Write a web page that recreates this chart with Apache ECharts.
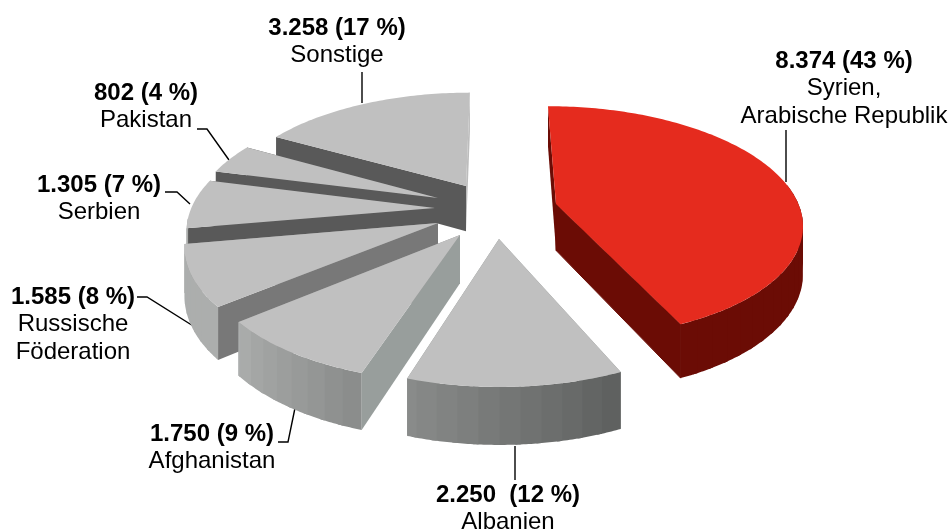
<!DOCTYPE html>
<html>
<head>
<meta charset="utf-8">
<style>html,body{margin:0;padding:0;background:#fff}#c{width:952px;height:532px}</style>
<script src="https://cdn.jsdelivr.net/npm/echarts@6/dist/echarts.min.js"></script>
</head>
<body>
<div id="c"></div>
<script>
// ---- data ----
const categories = ['Syrien,\nArabische Republik', 'Albanien', 'Afghanistan', 'Russische\nFöderation', 'Serbien', 'Pakistan', 'Sonstige'];
const values = [8374, 2250, 1750, 1585, 1305, 802, 3258];
const valueLabels = ['8.374 (43 %)', '2.250  (12 %)', '1.750 (9 %)', '1.585 (8 %)', '1.305 (7 %)', '802 (4 %)', '3.258 (17 %)'];

// ---- layout ----
const vanish = [496, -527], planeY = 230, focal = 1000;
const radiusX = 251, radiusV = 160, thickness = 48;
const explode = [[60, -26], [3, 9], [-36, 5], [-58, -7], [-61, -22], [-58, -32], [-30, -44]];
const labelAnchors = [[844, 61], [508, 495], [212, 434], [73, 297], [99, 185], [146, 93], [337, 28]];
const leaders = [
  [[786, 130], [786, 182]],
  [[515, 446], [515, 480]],
  [[278, 442], [288, 442], [295, 408]],
  [[137, 297], [147, 297], [198, 329]],
  [[165, 192], [177, 192], [190, 204]],
  [[197, 129], [207, 129], [229, 160]],
  [[362, 72], [362, 103]]
];
const topColors = ['#e52b1e', '#c0c0c0', '#c0c0c0', '#c0c0c0', '#c0c0c0', '#c0c0c0', '#c0c0c0'];
const startWall = ['#6b0c05', '#8a8f8d', '#989e9c', '#787878', '#595959', '#595959', '#595959'];
const endWall = ['#6b0c05', '#8a8f8d', '#8f8f8f', '#8f8f8f', '#595959', '#595959', '#bdbdbd'];

const total = values.reduce((a, b) => a + b, 0);
const H0 = planeY - vanish[1];

function toWorld(x, y) {
  const s = (y - vanish[1]) / H0;
  return [(x - vanish[0]) / s, focal * (1 - 1 / s)];
}
function project(X, V, down) {
  const s = 1 / (1 - V / focal);
  return [vanish[0] + X * s, vanish[1] + (H0 + (down ? thickness : 0)) * s];
}
function wallShade(i, deg) {
  if (i === 0) return '#6b0c05';
  const l = Math.round(Math.max(92, Math.min(172, 92 + (deg - 155) * 1.05)));
  return 'rgb(' + l + ',' + (l + 2) + ',' + (l + 1) + ')';
}

const starts = [];
values.reduce((acc, v, i) => { starts[i] = acc; return acc + v / total * 360; }, 0);

function renderSlice(params, api) {
  const i = api.value(0);
  const a0 = starts[i], a1 = a0 + values[i] / total * 360;
  const apexW = toWorld(vanish[0] + explode[i][0], planeY + explode[i][1]);
  const pt = (deg, down) => {
    const r = deg * Math.PI / 180;
    return project(apexW[0] + radiusX * Math.sin(r), apexW[1] - radiusV * Math.cos(r), down);
  };
  const apexTop = project(apexW[0], apexW[1], false), apexBot = project(apexW[0], apexW[1], true);
  const poly = (points, fill, seal) => ({
    type: 'polygon', shape: { points: points },
    style: seal ? { fill: fill, stroke: fill, lineWidth: 1, lineJoin: 'round' } : { fill: fill }, silent: true
  });
  const children = [];
  // radial walls; the red slice's near wall is sealed so no seam shows against its outer wall
  children.push(poly([apexTop, pt(a1, false), pt(a1, true), apexBot], endWall[i], i === 0));
  children.push(poly([apexTop, pt(a0, false), pt(a0, true), apexBot], startWall[i]));
  // outer wall, visible part only, in narrow overlapping strips
  const step = 4, arcFrom = Math.max(a0, 80), arcTo = Math.min(a1, 265);
  for (let d = arcFrom; d < arcTo; d += step) {
    const e = Math.min(d + step + 1, arcTo);
    const pts = [];
    const n = Math.max(2, Math.ceil((e - d) * 2));
    for (let k = 0; k <= n; k++) pts.push(pt(d + (e - d) * k / n, false));
    for (let k = n; k >= 0; k--) pts.push(pt(d + (e - d) * k / n, true));
    children.push(poly(pts, wallShade(i, d + step / 2)));
  }
  // top face
  const top = [apexTop];
  for (let d = a0; d < a1; d += 1) top.push(pt(d, false));
  top.push(pt(a1, false));
  children.push(poly(top, topColors[i]));
  return { type: 'group', children: children };
}

function renderLabel(params, api) {
  const i = api.value(0);
  const [x, y] = labelAnchors[i];
  const children = [{
    type: 'polyline', shape: { points: leaders[i] },
    style: { stroke: '#000', lineWidth: 1.4, fill: 'none' }, silent: true
  }, {
    type: 'text', silent: true,
    style: { text: valueLabels[i], x: x, y: y, align: 'center', verticalAlign: 'middle',
      fill: '#000', font: 'bold 24px "Liberation Sans", Arial, sans-serif' }
  }];
  categories[i].split('\n').forEach((line, k) => {
    children.push({
      type: 'text', silent: true,
      style: { text: line, x: x, y: y + 27.5 * (k + 1), align: 'center', verticalAlign: 'middle',
        fill: '#000', font: '24px "Liberation Sans", Arial, sans-serif' }
    });
  });
  return { type: 'group', children: children };
}

// far slices are painted first
const drawOrder = values.map((_, i) => [values.length - 1 - i]);

const chart = echarts.init(document.getElementById('c'), null, { renderer: 'canvas' });
chart.setOption({
  animation: false,
  backgroundColor: '#ffffff',
  tooltip: { show: false },
  series: [
    { type: 'custom', coordinateSystem: 'none', data: drawOrder, renderItem: renderSlice, z: 2, silent: true },
    { type: 'custom', coordinateSystem: 'none', data: drawOrder, renderItem: renderLabel, z: 1, silent: true }
  ]
});
</script>
</body>
</html>
